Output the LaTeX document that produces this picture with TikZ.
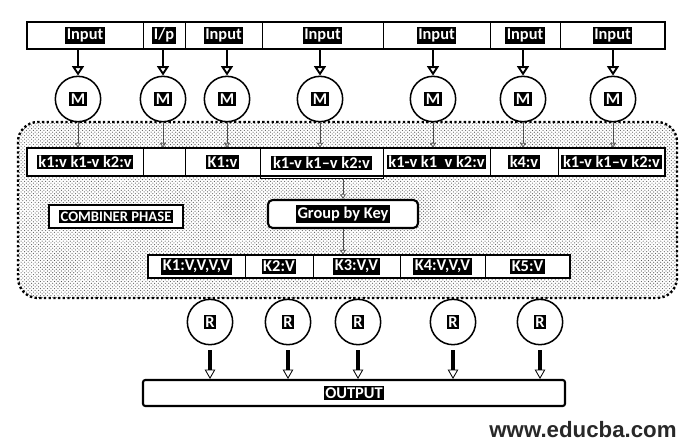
\documentclass[tikz,border=0pt]{standalone}
\usepackage{fontspec}
\setmainfont{Carlito}
\newfontfamily\webfont{Liberation Sans}
\usetikzlibrary{arrows.meta,patterns,positioning,calc}
\definecolor{DotGray}{RGB}{90,90,90}
\definecolor{WebGray}{RGB}{40,40,40}
\newcommand{\blob}[1]{{\setlength{\fboxsep}{1.4pt}\colorbox{black}{\textcolor{white}{\bfseries #1}}}}
% name, x1, x2, y1, y2, text
\newcommand{\cellnode}[6]{%
  \node[cell,minimum width={(#3-#2)*0.03cm},minimum height={(#5-#4)*0.03cm}] (#1) at ({(#2+#3)/2},{(#4+#5)/2}) {#6};}

\begin{document}
\begin{tikzpicture}[x=0.03cm,y=-0.03cm,
  font=\fontsize{14}{15}\selectfont,
  cell/.style={draw,fill=white,line width=0.6pt,inner sep=0pt},
  frame/.style={line width=1.8pt},
  worker/.style={draw,circle,fill=white,line width=1.3pt,minimum size=1.36cm,inner sep=0pt},
  phasebox/.style={draw,fill=white,line width=1.8pt,inner sep=0pt},
  inarrow/.style={line width=1.6pt,-{Triangle[open,length=8pt,width=10pt]}},
  smallarrow/.style={line width=0.6pt,black!70,-{Triangle[open,length=4pt,width=5pt]}},
  outarrow/.style={line width=3pt,shorten <=4pt,-{Triangle[open,line width=0.7pt,length=8pt,width=9pt]}}]
  \useasboundingbox (0,0) rectangle (692,445);
  % combiner area
  \draw[dotted,line width=2pt,rounded corners=17pt,pattern=crosshatch dots,pattern color=DotGray] (18,122) rectangle (677,298);
  % input row
  \cellnode{in1}{27}{143}{22}{49}{\blob{Input}}
  \cellnode{in2}{143}{185}{22}{49}{\blob{I/p}}
  \cellnode{in3}{185}{262}{22}{49}{\blob{Input}}
  \cellnode{in4}{262}{383}{22}{49}{\blob{Input}}
  \cellnode{in5}{383}{490}{22}{49}{\blob{Input}}
  \cellnode{in6}{490}{560}{22}{49}{\blob{Input}}
  \cellnode{in7}{560}{665}{22}{49}{\blob{Input}}
  \draw[frame] (in1.north west) rectangle (in7.south east);
  % mappers
  \node[worker] (m1) at (78,99) {\blob{M}};
  \node[worker] (m2) at (163,99) {\blob{M}};
  \node[worker] (m3) at (227,99) {\blob{M}};
  \node[worker] (m4) at (320,99) {\blob{M}};
  \node[worker] (m5) at (433,99) {\blob{M}};
  \node[worker] (m6) at (523,99) {\blob{M}};
  \node[worker] (m7) at (613,99) {\blob{M}};
  \draw[inarrow] (in1.south -| m1) -- (m1.north);
  \draw[inarrow] (in2.south -| m2) -- (m2.north);
  \draw[inarrow] (in3.south -| m3) -- (m3.north);
  \draw[inarrow] (in4.south -| m4) -- (m4.north);
  \draw[inarrow] (in5.south -| m5) -- (m5.north);
  \draw[inarrow] (in6.south -| m6) -- (m6.north);
  \draw[inarrow] (in7.south -| m7) -- (m7.north);
  % key/value row
  \cellnode{k1}{27}{143}{148}{176}{\blob{k1:v k1-v k2:v}}
  \cellnode{k2}{143}{185}{148}{176}{}
  \cellnode{k3}{185}{260}{148}{176}{\blob{K1:v}}
  \cellnode{k4}{260}{383}{148}{178}{\blob{k1-v k1--v k2:v}}
  \cellnode{k5}{383}{490}{148}{176}{\blob{k1-v k1 \ v k2:v}}
  \cellnode{k6}{490}{558}{148}{176}{\blob{k4:v}}
  \cellnode{k7}{558}{665}{148}{176}{\blob{k1-v k1--v k2:v}}
  \draw[frame] (k1.north west) rectangle (k7.south east);
  \draw[smallarrow] (m1.south) -- (m1.south |- k1.north);
  \draw[smallarrow] (m2.south) -- (m2.south |- k2.north);
  \draw[smallarrow] (m3.south) -- (m3.south |- k3.north);
  \draw[smallarrow] (m4.south) -- (m4.south |- k4.north);
  \draw[smallarrow] (m5.south) -- (m5.south |- k5.north);
  \draw[smallarrow] (m6.south) -- (m6.south |- k6.north);
  \draw[smallarrow] (m7.south) -- (m7.south |- k7.north);
  % phase boxes
  \node[phasebox,font=\fontsize{12.5}{14}\selectfont,minimum width=4.02cm,minimum height=0.69cm] (comb) at (116,216.5) {\blob{COMBINER PHASE}};
  \node[phasebox,rounded corners=4pt,minimum width=4.5cm,minimum height=0.84cm] (grp) at (343,214) {\blob{Group by Key}};
  \draw[smallarrow] (k4.south -| grp) -- (grp.north);
  % grouped row
  \cellnode{b1}{148}{245}{255}{278}{\blob{K1:V,V,V,V}}
  \cellnode{b2}{245}{313}{255}{278}{\blob{K2:V}}
  \cellnode{b3}{313}{400}{255}{278}{\blob{K3:V,V}}
  \cellnode{b4}{400}{485}{255}{278}{\blob{K4:V,V,V}}
  \cellnode{b5}{485}{570}{255}{278}{\blob{K5:V}}
  \draw[frame] (b1.north west) rectangle (b5.south east);
  \draw[smallarrow] (grp.south) -- (grp.south |- b3.north);
  % reducers
  \node[worker] (r1) at (210,322) {\blob{R}};
  \node[worker] (r2) at (288,322) {\blob{R}};
  \node[worker] (r3) at (358,322) {\blob{R}};
  \node[worker] (r4) at (453,322) {\blob{R}};
  \node[worker] (r5) at (540,322) {\blob{R}};
  \node[phasebox,rounded corners=2pt,minimum width=12.66cm,minimum height=0.78cm] (out) at (354,393) {\blob{OUTPUT}};
  \draw[outarrow] (r1.south) -- (r1.south |- out.north);
  \draw[outarrow] (r2.south) -- (r2.south |- out.north);
  \draw[outarrow] (r3.south) -- (r3.south |- out.north);
  \draw[outarrow] (r4.south) -- (r4.south |- out.north);
  \draw[outarrow] (r5.south) -- (r5.south |- out.north);
  \node[font=\webfont\bfseries\fontsize{19}{21}\selectfont,text=WebGray] (web) at (583,430) {www.educba.com};
\end{tikzpicture}
\end{document}
